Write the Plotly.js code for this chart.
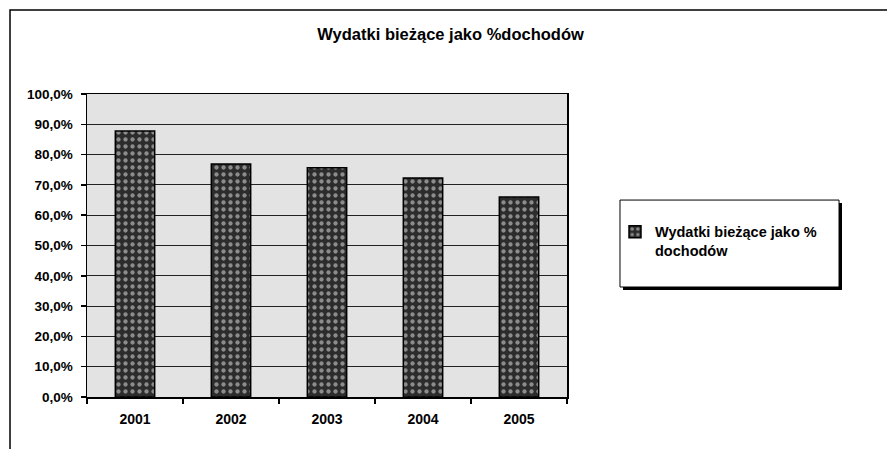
<!DOCTYPE html>
<html>
<head>
<meta charset="utf-8">
<script src="https://cdn.plot.ly/plotly-3.0.1.min.js"></script>
<style>html,body{margin:0;padding:0;background:#fff;}#chart{width:887px;height:449px;}</style>
</head>
<body>
<div id="chart"></div>
<script>
const years = ['2001', '2002', '2003', '2004', '2005'];
const values = [87.8, 76.9, 75.7, 72.3, 66.0];
const seriesName = 'Wydatki bieżące jako %<br>dochodów';
const chartTitle = 'Wydatki bieżące jako %dochodów';
const yTickVals = [0, 10, 20, 30, 40, 50, 60, 70, 80, 90, 100];
const yTickText = ['0,0%', '10,0%', '20,0%', '30,0%', '40,0%', '50,0%', '60,0%', '70,0%', '80,0%', '90,0%', '100,0%'];

const FONT = 'Liberation Sans, Arial, sans-serif';

const trace = {
  type: 'bar',
  x: years,
  y: values,
  name: seriesName,
  width: 0.41,
  marker: {
    color: '#333333',
    line: {color: '#000000', width: 1.5},
    pattern: {shape: '.', fgcolor: '#8c8c8c', bgcolor: '#2c2c2c', size: 7, solidity: 0.3}
  },
  hoverinfo: 'x+y'
};

const layout = {
  width: 887,
  height: 449,
  margin: {l: 87, r: 320, t: 94, b: 52},
  paper_bgcolor: '#ffffff',
  plot_bgcolor: '#e3e3e3',
  showlegend: true,
  title: {
    text: '<b>' + chartTitle + '</b>',
    font: {family: FONT, size: 16.5, color: '#000'},
    x: 0.508, xanchor: 'center',
    y: 1 - 34 / 449, yanchor: 'middle'
  },
  xaxis: {
    type: 'category',
    range: [-0.5, 4.5],
    showline: true, linecolor: '#000', linewidth: 1.5, mirror: true,
    ticks: 'outside', tickson: 'boundaries', ticklen: 5, tickcolor: '#000', tickwidth: 1.5,
    ticklabelstandoff: 9,
    tickfont: {family: FONT, size: 14, color: '#000', weight: 'bold'},
    showgrid: false
  },
  yaxis: {
    range: [0, 100],
    tickvals: yTickVals,
    ticktext: yTickText,
    showline: true, linecolor: '#000', linewidth: 1.5, mirror: true,
    ticks: 'outside', ticklen: 5, tickcolor: '#000', tickwidth: 1.5,
    ticklabelstandoff: 5,
    tickfont: {family: FONT, size: 13.5, color: '#000', weight: 'bold'},
    showgrid: true, gridcolor: '#222', gridwidth: 1,
    zeroline: false
  },
  legend: {
    x: 1.1, xanchor: 'left',
    y: 0.598, yanchor: 'top',
    bgcolor: 'rgba(0,0,0,0)', borderwidth: 0,
    valign: 'top',
    font: {family: FONT, size: 14.5, color: '#000', weight: 'bold'}
  },
  shapes: [
    {type: 'rect', xref: 'paper', yref: 'paper', x0: -0.1604, x1: 2, y0: -1, y1: 1.2772,
     line: {color: '#000', width: 1.5}, fillcolor: 'rgba(0,0,0,0)', layer: 'below'},
    {type: 'rect', xref: 'paper', yref: 'paper', x0: 1.1167, x1: 1.5729, y0: 0.353, y1: 0.640,
     line: {width: 0}, fillcolor: '#000', layer: 'above'},
    {type: 'rect', xref: 'paper', yref: 'paper', x0: 1.1104, x1: 1.5667, y0: 0.363, y1: 0.650,
     line: {color: '#000', width: 1}, fillcolor: '#fff', layer: 'above'}
  ]
};

Plotly.newPlot('chart', [trace], layout, {displayModeBar: false, staticPlot: true});
</script>
</body>
</html>
